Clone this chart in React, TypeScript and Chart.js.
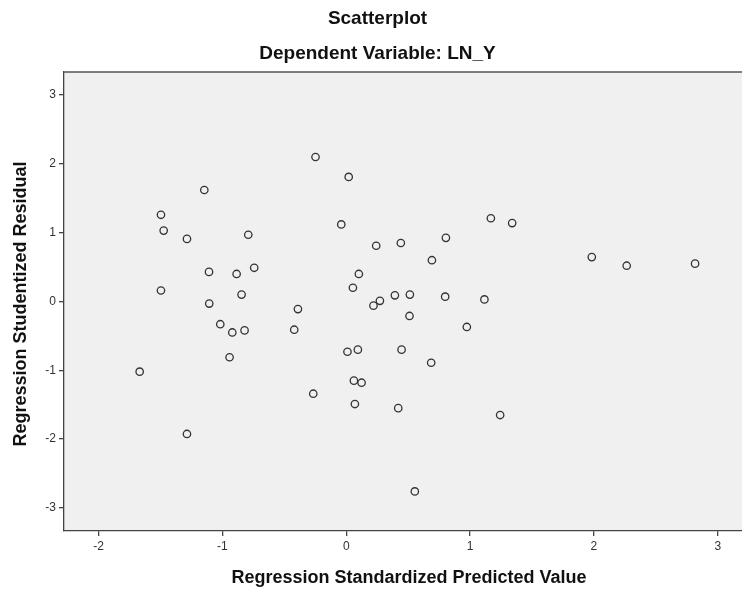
import React, { useEffect, useRef } from "react";
import { Chart, registerables } from "chart.js";

Chart.register(...registerables);

const titleMain = "Scatterplot";
const titleSub = "Dependent Variable: LN_Y";
const xAxisTitle = "Regression Standardized Predicted Value";
const yAxisTitle = "Regression Studentized Residual";

const xTicks = [-2, -1, 0, 1, 2, 3];
const yTicks = [-3, -2, -1, 0, 1, 2, 3];

const predicted = [
  -0.248, 0.02, -1.146, -1.496, -1.474, -1.286, -0.791, -0.04, -1.108, -0.885,
  -0.743, -1.496, -0.845, 0.102, 0.054, 0.242, -1.106, -0.39, 0.22, 1.168,
  1.34, 0.441, 0.805, 0.692, 1.983, 2.265, 2.817, 0.272, 0.393, 0.514,
  0.799, 1.116, 0.511, -1.017, -0.92, -0.821, -0.942, -0.42, 0.01, 0.094,
  0.062, 0.124, -0.266, 0.07, -1.668, -1.286, 0.974, 0.447, 0.686, 0.42,
  1.243, 0.554,
];
const residual = [
  2.1, 1.81, 1.62, 1.26, 1.03, 0.91, 0.97, 1.12, 0.43, 0.4,
  0.49, 0.16, 0.1, 0.4, 0.2, 0.81, -0.03, -0.11, -0.06, 1.21,
  1.14, 0.85, 0.925, 0.6, 0.645, 0.52, 0.55, 0.01, 0.09, 0.1,
  0.07, 0.03, -0.21, -0.33, -0.45, -0.42, -0.81, -0.41, -0.73, -0.7,
  -1.15, -1.18, -1.34, -1.49, -1.02, -1.925, -0.37, -0.7, -0.89, -1.55,
  -1.65, -2.76,
];

const FONT = "'Liberation Sans', Arial, sans-serif";

const decorPlugin = {
  id: "decor",
  beforeDraw(chart: any) {
    const { ctx, chartArea } = chart;
    ctx.save();
    ctx.fillStyle = "#ffffff";
    ctx.fillRect(0, 0, chart.width, chart.height);
    ctx.fillStyle = "#f0f0f0";
    ctx.fillRect(chartArea.left, chartArea.top, chartArea.right - chartArea.left, chartArea.bottom - chartArea.top);
    ctx.restore();
  },
  afterDraw(chart: any) {
    const { ctx, chartArea } = chart;
    ctx.save();
    ctx.strokeStyle = "#555555";
    ctx.lineWidth = 1.3;
    ctx.beginPath();
    ctx.moveTo(chartArea.left, chartArea.top);
    ctx.lineTo(chartArea.right, chartArea.top);
    ctx.stroke();
    ctx.fillStyle = "#111111";
    ctx.textAlign = "center";
    ctx.textBaseline = "middle";
    ctx.font = `bold 19px ${FONT}`;
    ctx.fillText(titleMain, 377.5, 19);
    ctx.fillText(titleSub, 377.5, 53.5);
    ctx.font = `bold 18px ${FONT}`;
    ctx.fillText(xAxisTitle, 409, 578);
    const midY = (chartArea.top + chartArea.bottom) / 2;
    ctx.translate(21.5, midY + 2.5);
    ctx.rotate(-Math.PI / 2);
    ctx.fillText(yAxisTitle, 0, 0);
    ctx.restore();
  },
};

export default function App() {
  const ref = useRef<HTMLCanvasElement | null>(null);
  useEffect(() => {
    if (!ref.current) return;
    const chart = new Chart(ref.current, {
      type: "scatter",
      data: {
        datasets: [
          {
            data: predicted.map((x, i) => ({ x, y: residual[i] })),
            pointRadius: 3.7,
            pointHoverRadius: 3.7,
            pointBorderWidth: 1.3,
            borderColor: "#333333",
            backgroundColor: "rgba(0,0,0,0)",
          },
        ],
      },
      options: {
        responsive: false,
        animation: false,
        events: [],
        layout: { autoPadding: false, padding: { top: 72, right: 0, bottom: 0, left: 0 } },
        plugins: { legend: { display: false }, tooltip: { enabled: false }, title: { display: false } },
        scales: {
          x: {
            type: "linear",
            min: -2.279,
            max: 3.196,
            afterBuildTicks: (s: any) => {
              s.ticks = xTicks.map((v) => ({ value: v }));
            },
            afterFit: (s: any) => {
              s.height = 58;
              s.paddingLeft = 0;
              s.paddingRight = 0;
            },
            border: { display: true, color: "#444444", width: 1.3 },
            grid: { drawOnChartArea: false, drawTicks: true, tickLength: 5, color: "#444444", lineWidth: 1.3 },
            ticks: { color: "#333333", font: { family: FONT, size: 12 }, padding: 3, maxRotation: 0 },
          },
          y: {
            type: "linear",
            min: -3.335,
            max: 3.335,
            afterBuildTicks: (s: any) => {
              s.ticks = yTicks.map((v) => ({ value: v }));
            },
            afterFit: (s: any) => {
              s.width = 64;
              s.paddingTop = 0;
              s.paddingBottom = 0;
            },
            border: { display: true, color: "#444444", width: 1.3 },
            grid: { drawOnChartArea: false, drawTicks: true, tickLength: 5, color: "#444444", lineWidth: 1.3 },
            ticks: { color: "#333333", font: { family: FONT, size: 12 }, padding: 3 },
          },
        },
      },
      plugins: [decorPlugin],
    });
    return () => chart.destroy();
  }, []);
  return (
    <div style={{ position: "fixed", left: 0, top: 0, width: 742, height: 589 }}>
      <canvas ref={ref} width={742} height={589} style={{ width: 742, height: 589, display: "block" }} />
    </div>
  );
}
